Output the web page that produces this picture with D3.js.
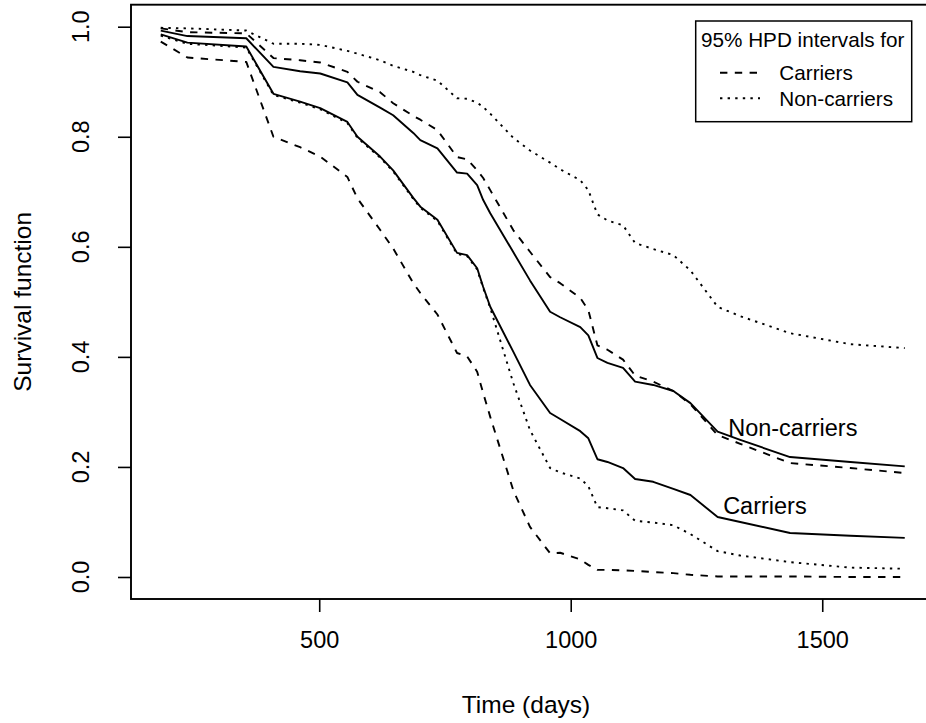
<!DOCTYPE html>
<html>
<head>
<meta charset="utf-8">
<script src="https://cdn.jsdelivr.net/npm/d3@7"></script>
<style>
  html, body { margin: 0; padding: 0; background: #fff; }
  svg { display: block; font-family: "Liberation Sans", Arial, Helvetica, sans-serif; }
</style>
</head>
<body>
<svg id="chart" width="926" height="723"></svg>
<script>
// ---- data ----
const times = [185, 238, 355, 409, 462, 502, 556, 576, 621, 647, 687, 701, 735, 774, 794, 814, 826, 840,
  886, 919, 959, 979, 1019, 1035, 1053, 1073, 1104, 1128, 1164, 1204, 1238, 1292, 1337, 1436, 1556, 1664];

// solid: posterior mean survival
const nonCarrierMean = [0.993, 0.983, 0.979, 0.927, 0.919, 0.915, 0.899, 0.876, 0.853, 0.839, 0.807, 0.794,
  0.779, 0.735, 0.733, 0.712, 0.685, 0.661, 0.590, 0.539, 0.482, 0.472, 0.454, 0.439, 0.398, 0.389, 0.380,
  0.355, 0.349, 0.338, 0.316, 0.264, 0.249, 0.218, 0.209, 0.201];
const carrierMean = [0.986, 0.971, 0.964, 0.878, 0.864, 0.852, 0.827, 0.800, 0.764, 0.739, 0.689, 0.673,
  0.649, 0.589, 0.585, 0.561, 0.527, 0.491, 0.409, 0.349, 0.298, 0.287, 0.265, 0.252, 0.214, 0.209, 0.198,
  0.178, 0.173, 0.160, 0.149, 0.109, 0.100, 0.080, 0.075, 0.071];

// dashed: 95% HPD bounds "Carriers"
const carrierHpdUpper = [0.997, 0.990, 0.988, 0.943, 0.939, 0.935, 0.918, 0.900, 0.881, 0.861, 0.838, 0.831,
  0.812, 0.763, 0.759, 0.739, 0.725, 0.703, 0.630, 0.591, 0.545, 0.534, 0.507, 0.485, 0.421, 0.413, 0.395,
  0.366, 0.355, 0.338, 0.314, 0.258, 0.242, 0.207, 0.198, 0.189];
const carrierHpdLower = [0.973, 0.944, 0.936, 0.800, 0.781, 0.764, 0.727, 0.688, 0.631, 0.597, 0.534, 0.516,
  0.477, 0.407, 0.401, 0.373, 0.334, 0.291, 0.157, 0.091, 0.043, 0.044, 0.032, 0.022, 0.013, 0.013, 0.012,
  0.011, 0.009, 0.007, 0.004, 0.001, 0.001, 0.001, 0.000, 0.000];

// dotted: 95% HPD bounds "Non-carriers"
const nonCarrierHpdUpper = [0.998, 0.997, 0.993, 0.969, 0.969, 0.967, 0.956, 0.951, 0.939, 0.929, 0.918, 0.912,
  0.902, 0.870, 0.869, 0.862, 0.854, 0.842, 0.798, 0.775, 0.753, 0.741, 0.721, 0.703, 0.659, 0.648, 0.639,
  0.607, 0.596, 0.585, 0.557, 0.491, 0.474, 0.443, 0.423, 0.416];
const nonCarrierHpdLower = [0.984, 0.969, 0.962, 0.876, 0.862, 0.850, 0.825, 0.798, 0.762, 0.737, 0.687, 0.671,
  0.647, 0.587, 0.583, 0.559, 0.525, 0.489, 0.352, 0.267, 0.198, 0.190, 0.179, 0.165, 0.127, 0.125, 0.121,
  0.102, 0.099, 0.094, 0.078, 0.047, 0.039, 0.027, 0.017, 0.015];

const xTicks = [500, 1000, 1500];
const yTicks = [0.0, 0.2, 0.4, 0.6, 0.8, 1.0];
const xTitle = "Time (days)";
const yTitle = "Survival function";
const legendTitle = "95% HPD intervals for";
const legendLabels = ["Carriers", "Non-carriers"];
const curveLabels = [{text: "Non-carriers", t: 1313, s: 0.257}, {text: "Carriers", t: 1303, s: 0.115}];

// ---- layout ----
const box = {left: 131, top: 4.7, right: 934.5, bottom: 599};
const lw = 1.9;
const dashed = "7.4,7.4";
const dotted = "2.4,5.2";
const fontBase = 23.5;
const fontTitle = 24.5;

const svg = d3.select("#chart");

// R-style 4% padding of the data range
const tMin = d3.min(times), tMax = d3.max(times);
const tPad = 0.04 * (tMax - tMin);
const x = d3.scaleLinear().domain([tMin - tPad, tMax + tPad]).range([box.left, box.right]);
const y = d3.scaleLinear().domain([-0.04, 1.04]).range([box.bottom, box.top]);

const line = d3.line().x(d => x(d[0])).y(d => y(d[1]));
const series = [
  {vals: nonCarrierMean, dash: null},
  {vals: carrierMean, dash: null},
  {vals: carrierHpdUpper, dash: dashed},
  {vals: carrierHpdLower, dash: dashed},
  {vals: nonCarrierHpdUpper, dash: dotted},
  {vals: nonCarrierHpdLower, dash: dotted}
];

const plot = svg.append("g");
series.forEach(s => {
  plot.append("path")
    .datum(times.map((t, i) => [t, s.vals[i]]))
    .attr("d", line)
    .attr("fill", "none")
    .attr("stroke", "#000")
    .attr("stroke-width", lw)
    .attr("stroke-linejoin", "round")
    .attr("stroke-dasharray", s.dash);
});

// box
svg.append("rect")
  .attr("x", box.left).attr("y", box.top)
  .attr("width", box.right - box.left).attr("height", box.bottom - box.top)
  .attr("fill", "none").attr("stroke", "#000").attr("stroke-width", 1.9);

// x axis
const xAxis = svg.append("g")
  .attr("transform", `translate(0,${box.bottom})`)
  .call(d3.axisBottom(x).tickValues(xTicks).tickSize(13).tickPadding(19).tickFormat(d3.format("d")));
xAxis.select(".domain").remove();
xAxis.selectAll("line").attr("stroke", "#000").attr("stroke-width", 1.6);
xAxis.selectAll("text").attr("font-size", fontBase).attr("font-family", "Liberation Sans, Arial, sans-serif").attr("fill", "#000");

// y axis (ticks), labels rotated like R
const yAxis = svg.append("g")
  .attr("transform", `translate(${box.left},0)`)
  .call(d3.axisLeft(y).tickValues(yTicks).tickSize(13).tickFormat(""));
yAxis.select(".domain").remove();
yAxis.selectAll("line").attr("stroke", "#000").attr("stroke-width", 1.6);
const yLabX = 89;
svg.append("g").selectAll("text").data(yTicks).join("text")
  .attr("transform", d => `translate(${yLabX},${y(d)}) rotate(-90)`)
  .attr("text-anchor", "middle")
  .attr("font-size", fontBase)
  .text(d3.format(".1f"));

// axis titles
svg.append("text")
  .attr("x", 526).attr("y", 713)
  .attr("text-anchor", "middle").attr("font-size", fontTitle)
  .text(xTitle);
svg.append("text")
  .attr("transform", `translate(31,${(box.top + box.bottom) / 2}) rotate(-90)`)
  .attr("text-anchor", "middle").attr("font-size", fontTitle)
  .text(yTitle);

// curve labels
svg.append("g").selectAll("text").data(curveLabels).join("text")
  .attr("x", d => x(d.t)).attr("y", d => y(d.s))
  .attr("font-size", fontBase)
  .text(d => d.text);

// legend
const lg = {left: 695.7, top: 21, right: 911.7, bottom: 121.7};
const lfs = 20.7;
const legend = svg.append("g");
legend.append("rect")
  .attr("x", lg.left).attr("y", lg.top)
  .attr("width", lg.right - lg.left).attr("height", lg.bottom - lg.top)
  .attr("fill", "#fff").attr("stroke", "#000").attr("stroke-width", 1.5);
legend.append("text").attr("x", 701).attr("y", 47).attr("font-size", lfs).text(legendTitle);
const legDash = [dashed, dotted];
const rowY = [72.7, 98.3];
legendLabels.forEach((lab, i) => {
  legend.append("line")
    .attr("x1", 720).attr("x2", 760).attr("y1", rowY[i]).attr("y2", rowY[i])
    .attr("stroke", "#000").attr("stroke-width", lw).attr("stroke-dasharray", legDash[i]);
  legend.append("text").attr("x", 779.3).attr("y", rowY[i] + 7.3).attr("font-size", lfs).text(lab);
});
</script>
</body>
</html>
